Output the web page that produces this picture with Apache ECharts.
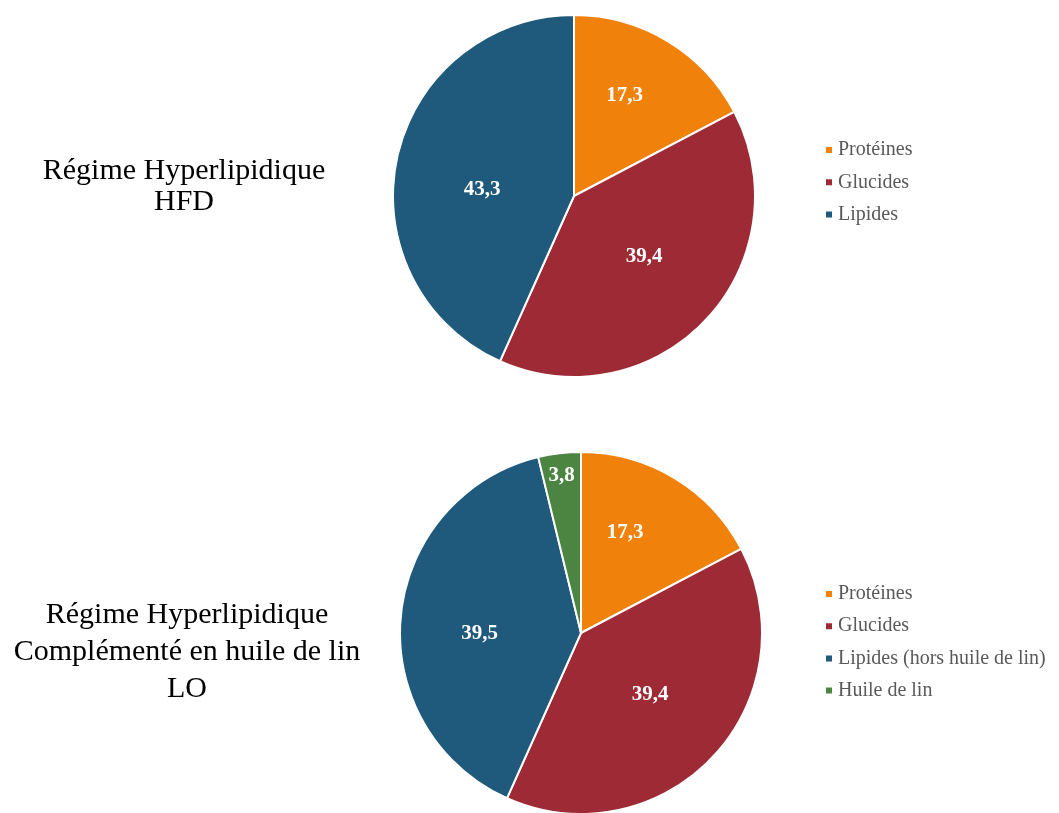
<!DOCTYPE html>
<html>
<head>
<meta charset="utf-8">
<script src="https://cdn.jsdelivr.net/npm/echarts@6/dist/echarts.min.js"></script>
<style>
  html, body { margin: 0; padding: 0; background: #fff; }
  #chart { width: 1059px; height: 813px; }
</style>
</head>
<body>
<div id="chart"></div>
<script>
// Diet composition (% of energy)
const hfdCategories = ['Protéines', 'Glucides', 'Lipides'];
const hfdValues = [17.3, 39.4, 43.3];

const loCategories = ['Protéines', 'Glucides', 'Lipides (hors huile de lin)', 'Huile de lin'];
const loValues = [17.3, 39.4, 39.5, 3.8];

const hfdTitle = 'Régime Hyperlipidique\nHFD';
const loTitle = 'Régime Hyperlipidique\nComplémenté en huile de lin\nLO';

// Styling
const sliceColors = ['#F0820C', '#9E2A36', '#1F597B', '#4C8442'];
const serif = '"Liberation Serif", "Times New Roman", serif';
const R = 181;
// Value label placement: distance from centre (fraction of radius) and angular nudge (deg)
const hfdLabelRadius = [0.635, 0.5, 0.51];
const hfdLabelTurn = [-5, -4, -6];
const loLabelRadius = [0.62, 0.5, 0.56, 0.895];
const loLabelTurn = [-8, -3, -4, 0];
const labelDrop = 3;

function fmt(v) { return v.toFixed(1).replace('.', ','); }

function toData(cats, vals) {
  return cats.map((c, i) => ({ name: c, value: vals[i], itemStyle: { color: sliceColors[i] } }));
}

function radialLayout(cx, cy, fractions, turns, vals) {
  const total = vals.reduce((a, b) => a + b, 0);
  return function (params) {
    const i = params.dataIndex;
    let before = 0;
    for (let k = 0; k < i; k++) before += vals[k];
    const mid = (before + vals[i] / 2) / total * Math.PI * 2 + turns[i] * Math.PI / 180;
    const d = fractions[i] * R;
    return {
      x: cx + d * Math.sin(mid),
      y: cy - d * Math.cos(mid) + labelDrop,
      align: 'center',
      verticalAlign: 'middle'
    };
  };
}

const labelStyle = {
  show: true,
  position: 'inside',
  color: '#fff',
  fontFamily: serif,
  fontWeight: 'bold',
  fontSize: 21,
  formatter: p => fmt(p.value)
};

const legendText = { color: '#595959', fontFamily: serif, fontSize: 20, lineHeight: 20 };

const chart = echarts.init(document.getElementById('chart'), null, { renderer: 'canvas' });

const c1 = [574, 196];
const c2 = [581, 633];

chart.setOption({
  backgroundColor: '#fff',
  animation: false,
  title: [
    {
      text: hfdTitle,
      left: 179, top: 151, textAlign: 'center',
      textStyle: { fontFamily: serif, fontWeight: 'normal', fontSize: 30, lineHeight: 31, color: '#000' }
    },
    {
      text: loTitle,
      left: 182, top: 592, textAlign: 'center',
      textStyle: { fontFamily: serif, fontWeight: 'normal', fontSize: 30, lineHeight: 37, color: '#000' }
    }
  ],
  legend: [
    {
      data: hfdCategories,
      orient: 'vertical', left: 819, top: 135,
      itemWidth: 8, itemHeight: 8, itemGap: 12.3, icon: 'rect',
      textStyle: legendText,
      selectedMode: false
    },
    {
      data: loCategories,
      orient: 'vertical', left: 819, top: 579,
      itemWidth: 8, itemHeight: 8, itemGap: 12.2, icon: 'rect',
      textStyle: legendText,
      selectedMode: false
    }
  ],
  series: [
    {
      type: 'pie',
      center: c1,
      radius: [0, R],
      startAngle: 90,
      clockwise: true,
      avoidLabelOverlap: false,
      itemStyle: { borderColor: '#fff', borderWidth: 2 },
      label: labelStyle,
      labelLine: { show: false },
      labelLayout: radialLayout(c1[0], c1[1], hfdLabelRadius, hfdLabelTurn, hfdValues),
      emphasis: { disabled: true },
      data: toData(hfdCategories, hfdValues)
    },
    {
      type: 'pie',
      center: c2,
      radius: [0, R],
      startAngle: 90,
      clockwise: true,
      avoidLabelOverlap: false,
      itemStyle: { borderColor: '#fff', borderWidth: 2 },
      label: labelStyle,
      labelLine: { show: false },
      labelLayout: radialLayout(c2[0], c2[1], loLabelRadius, loLabelTurn, loValues),
      emphasis: { disabled: true },
      data: toData(loCategories, loValues)
    }
  ]
});
</script>
</body>
</html>
